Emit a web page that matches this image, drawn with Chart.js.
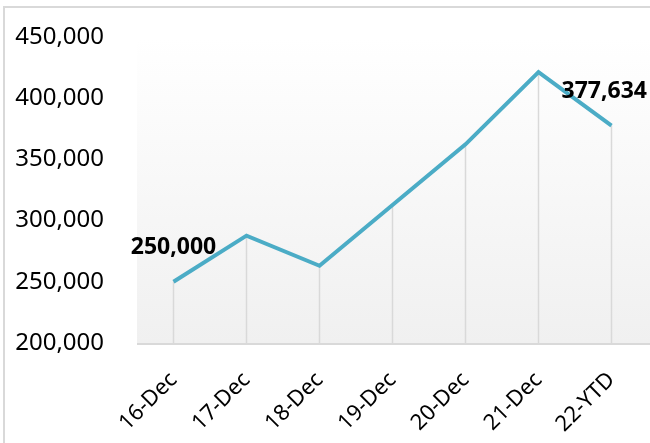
<!DOCTYPE html>
<html>
<head>
<meta charset="utf-8">
<script src="https://cdn.jsdelivr.net/npm/chart.js@4/dist/chart.umd.min.js"></script>
<style>
  html, body { margin: 0; padding: 0; background: #ffffff; overflow: hidden; }
  #wrap { position: relative; width: 650px; height: 443px; }
</style>
</head>
<body>
<div id="wrap"><canvas id="c" width="650" height="443"></canvas></div>
<script>
const categories = ['16-Dec', '17-Dec', '18-Dec', '19-Dec', '20-Dec', '21-Dec', '22-YTD'];
const values = [250000, 287700, 263100, 312700, 362300, 421300, 377634];
const labelledIndexes = [0, 6];
const yMin = 200000;
const yMax = 450000;
const yStep = 50000;

const fmt = v => v.toLocaleString('en-US');

const decorPlugin = {
  id: 'decor',
  beforeDraw(chart) {
    const { ctx } = chart;
    ctx.save();
    ctx.strokeStyle = '#d9d9d9';
    ctx.lineWidth = 2;
    ctx.strokeRect(4, 7, 800, 600);
    ctx.restore();
  },
  beforeDatasetsDraw(chart) {
    const { ctx, chartArea } = chart;
    ctx.save();
    const g = ctx.createLinearGradient(0, chartArea.top, 0, chartArea.bottom);
    g.addColorStop(0, '#ffffff');
    g.addColorStop(1, '#f0f0f0');
    ctx.fillStyle = g;
    ctx.fillRect(chartArea.left, chartArea.top, chart.width - chartArea.left, chartArea.bottom - chartArea.top);
    ctx.strokeStyle = '#d9d9d9';
    ctx.lineWidth = 1.5;
    const meta = chart.getDatasetMeta(0);
    meta.data.forEach(pt => {
      ctx.beginPath();
      ctx.moveTo(pt.x, pt.y);
      ctx.lineTo(pt.x, chartArea.bottom);
      ctx.stroke();
    });
    ctx.lineWidth = 2;
    ctx.beginPath();
    ctx.moveTo(chartArea.left, chartArea.bottom + 1);
    ctx.lineTo(chart.width, chartArea.bottom + 1);
    ctx.stroke();
    ctx.restore();
  },
  afterDatasetsDraw(chart) {
    const { ctx } = chart;
    const meta = chart.getDatasetMeta(0);
    ctx.save();
    ctx.font = 'bold 23px "Noto Sans"';
    ctx.fillStyle = '#000000';
    ctx.textBaseline = 'middle';
    ctx.textAlign = 'center';
    labelledIndexes.forEach(i => {
      const pt = meta.data[i];
      const text = fmt(values[i]);
      const w = ctx.measureText(text).width;
      let cx = pt.x;
      const maxRight = chart.width - 3;
      if (cx + w / 2 > maxRight) cx = maxRight - w / 2;
      ctx.fillText(text, cx, pt.y - 34);
    });
    ctx.restore();
  }
};

new Chart(document.getElementById('c'), {
  type: 'line',
  data: {
    labels: categories,
    datasets: [{
      data: values,
      borderColor: '#4bacc6',
      borderWidth: 4,
      pointRadius: 0,
      tension: 0,
      fill: false,
      borderCapStyle: 'butt',
      borderJoinStyle: 'miter'
    }]
  },
  options: {
    responsive: false,
    animation: false,
    layout: { padding: { left: 0, right: 2, top: 37, bottom: 0 } },
    plugins: { legend: { display: false }, tooltip: { enabled: false } },
    scales: {
      x: {
        offset: true,
        grid: { display: false, drawTicks: false },
        border: { display: false },
        afterFit(scale) { scale.height = 100; scale.paddingLeft = 0; scale.paddingRight = 0; },
        ticks: {
          color: '#000000',
          font: { family: '"Noto Sans"', size: 22 },
          maxRotation: 45,
          minRotation: 45,
          padding: 24,
          autoSkip: false
        }
      },
      y: {
        min: yMin,
        max: yMax,
        grid: { display: false, drawTicks: false },
        border: { display: false },
        afterFit(scale) { scale.width = 137; scale.paddingTop = 0; scale.paddingBottom = 0; },
        ticks: {
          stepSize: yStep,
          color: '#000000',
          font: { family: '"Noto Sans"', size: 24 },
          padding: 33,
          callback: v => fmt(v)
        }
      }
    }
  },
  plugins: [decorPlugin]
});
</script>
</body>
</html>
